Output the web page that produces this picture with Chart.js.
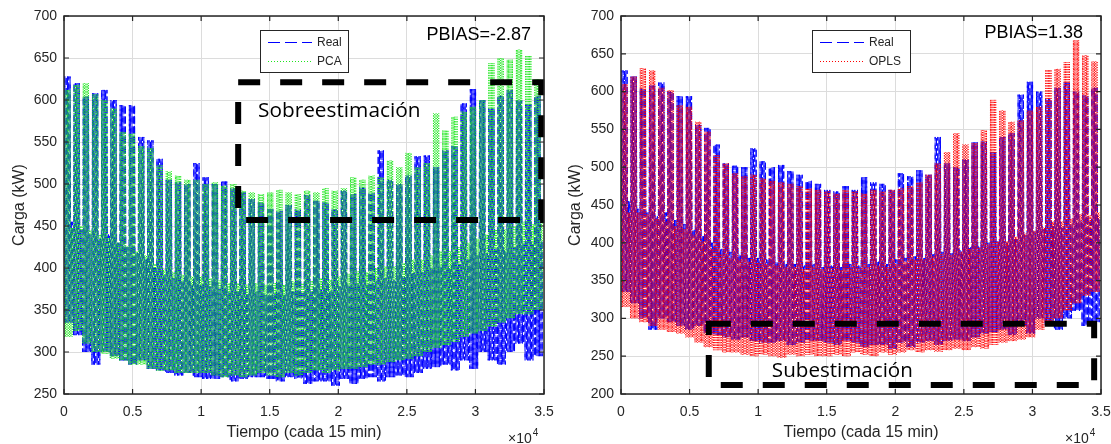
<!DOCTYPE html>
<html>
<head>
<meta charset="utf-8">
<script src="https://cdn.jsdelivr.net/npm/chart.js@4.4.0/dist/chart.umd.min.js"></script>
<style>
  body { margin: 0; background: #fff; width: 1111px; height: 444px; overflow: hidden; position: relative; }
  .panel { position: absolute; top: 0; height: 444px; }
</style>
</head>
<body>
<div class="panel" style="left:0;width:555px"><canvas id="pcaChart" width="555" height="444"></canvas></div>
<div class="panel" style="left:555px;width:556px"><canvas id="oplsChart" width="556" height="444"></canvas></div>
<script>
// weekly readings (52 weeks, 96 samples of 15 min per day)
const realPeak = [628, 620, 604, 608, 612, 600, 594, 594, 556, 552, 530, 505, 502, 500, 525, 508, 500, 503, 495, 490, 482, 478, 470, 468, 475, 470,
                  487, 480, 478, 470, 492, 488, 496, 490, 540, 505, 500, 510, 533, 534, 520, 540, 545, 596, 613, 600, 590, 605, 612, 600, 595, 605];
const realLow = [335, 320, 300, 285, 300, 295, 290, 285, 290, 280, 278, 275, 272, 275, 270, 268, 268, 270, 265, 268, 270, 270, 268, 265, 270, 268,
                 262, 265, 265, 260, 268, 262, 268, 270, 265, 270, 272, 270, 275, 280, 282, 285, 278, 290, 280, 300, 290, 285, 300, 310, 290, 295];
const realWeekend = [455, 445, 440, 435, 440, 430, 425, 418, 410, 400, 392, 388, 385, 380, 380, 378, 375, 372, 372, 370, 372, 368, 370, 368, 372, 370,
                     372, 375, 372, 378, 380, 382, 380, 385, 388, 386, 390, 394, 395, 400, 402, 400, 405, 410, 415, 418, 422, 420, 425, 430, 428, 432];

const pcaPeak = [612, 618, 620, 607, 600, 590, 562, 560, 545, 543, 522, 515, 510, 505, 505, 500, 502, 498, 500, 492, 490, 488, 490, 493, 490, 488,
                 492, 490, 495, 492, 495, 508, 505, 510, 508, 528, 520, 537, 520, 525, 584, 564, 580, 586, 592, 600, 644, 650, 648, 660, 653, 625];
const pcaLow = [318, 325, 310, 300, 298, 292, 290, 285, 285, 280, 278, 278, 275, 275, 275, 275, 272, 270, 272, 270, 272, 275, 272, 270, 275, 272,
                275, 278, 275, 278, 280, 280, 282, 285, 285, 288, 290, 292, 295, 300, 305, 308, 312, 318, 322, 325, 330, 335, 340, 345, 345, 350];
const pcaWeekend = [448, 450, 445, 440, 436, 430, 426, 420, 415, 405, 398, 395, 392, 390, 390, 388, 385, 382, 382, 380, 382, 380, 382, 380, 384, 382,
                    385, 388, 386, 390, 393, 396, 395, 400, 402, 402, 406, 410, 410, 415, 420, 420, 425, 430, 435, 440, 446, 446, 450, 455, 452, 456];

const oplsPeak = [610, 620, 631, 628, 605, 602, 582, 580, 560, 547, 516, 505, 492, 488, 490, 485, 482, 480, 478, 475, 472, 470, 468, 465, 470, 468,
                  465, 470, 468, 470, 472, 475, 480, 490, 505, 520, 545, 530, 532, 549, 589, 575, 560, 562, 575, 580, 629, 630, 639, 668, 648, 640];
const oplsLow = [315, 300, 295, 290, 285, 282, 280, 275, 268, 262, 258, 255, 255, 252, 250, 252, 250, 248, 252, 250, 252, 250, 250, 252, 250, 255,
                 252, 250, 255, 252, 255, 258, 255, 258, 256, 258, 260, 258, 262, 260, 265, 268, 270, 272, 275, 285, 295, 300, 310, 320, 330, 335];
const oplsWeekend = [440, 440, 438, 432, 428, 422, 418, 410, 402, 392, 385, 380, 378, 375, 374, 372, 370, 368, 368, 365, 368, 365, 366, 364, 368, 366,
                     368, 370, 368, 372, 375, 378, 378, 382, 385, 384, 388, 392, 394, 398, 402, 402, 408, 412, 416, 420, 428, 428, 432, 438, 436, 440];

const xTicks = [0, 5000, 10000, 15000, 20000, 25000, 30000, 35000];

// one night low and one afternoon high per day, weekdays reach the weekly peak
function buildSeries(peak, low, weekend) {
  const pts = [];
  for (let w = 0; w < peak.length; w++) {
    for (let d = 0; d < 7; d++) {
      const day = w * 7 + d;
      pts.push({ x: day * 96 + 20, y: low[w] });
      pts.push({ x: day * 96 + 60, y: d < 5 ? peak[w] : weekend[w] });
    }
  }
  return pts;
}

const INK = '#262626';
Chart.defaults.font.family = '"Liberation Sans", Arial, sans-serif';
Chart.defaults.color = INK;

function fitText(ctx, text, family, target) {
  ctx.font = '20px ' + family;
  const size = 20 * target / ctx.measureText(text).width;
  ctx.font = size.toFixed(1) + 'px ' + family;
}

const matlabFrame = {
  id: 'matlabFrame',
  afterDatasetsDraw(chart, args, o) {
    const { ctx, chartArea: a, scales: { x, y } } = chart;
    ctx.save();

    // dashed annotation box
    ctx.strokeStyle = '#000';
    ctx.lineWidth = 6;
    ctx.setLineDash([22, 20]);
    const bx1 = x.getPixelForValue(o.box[0]), bx2 = x.getPixelForValue(o.box[1]);
    const by1 = y.getPixelForValue(o.box[2]), by2 = y.getPixelForValue(o.box[3]);
    ctx.strokeRect(bx1, by1, bx2 - bx1, by2 - by1);
    ctx.setLineDash([]);

    ctx.fillStyle = '#000';
    ctx.textBaseline = 'alphabetic';
    ctx.textAlign = 'left';
    fitText(ctx, o.note, '"Open Sans", sans-serif', o.noteWidth);
    ctx.fillText(o.note, x.getPixelForValue(o.noteAt[0]), y.getPixelForValue(o.noteAt[1]));

    // PBIAS
    ctx.font = '18px "Liberation Sans", Arial, sans-serif';
    ctx.textAlign = 'right';
    ctx.fillText(o.pbias, a.right - o.pbiasRight, a.top + o.pbiasBase);

    // legend
    const lx = a.left + o.legendX, ly = a.top + 14, lw = o.legendW, lh = 42;
    ctx.fillStyle = '#fff';
    ctx.fillRect(lx, ly, lw, lh);
    ctx.strokeStyle = INK;
    ctx.lineWidth = 1;
    ctx.strokeRect(lx + 0.5, ly + 0.5, lw, lh);
    ctx.font = '12px "Liberation Sans", Arial, sans-serif';
    ctx.textAlign = 'left';
    ctx.textBaseline = 'middle';
    chart.data.datasets.forEach((ds, i) => {
      const row = ly + 12 + i * 19;
      ctx.strokeStyle = ds.borderColor;
      ctx.lineWidth = 1;
      ctx.setLineDash(i === 0 ? [12, 5] : [1, 2]);
      ctx.beginPath();
      ctx.moveTo(lx + 8, row + 0.5);
      ctx.lineTo(lx + 52, row + 0.5);
      ctx.stroke();
      ctx.setLineDash([]);
      ctx.fillStyle = INK;
      ctx.fillText(ds.label, lx + 57, row + 1);
    });

    // axes box and inward ticks
    ctx.strokeStyle = INK;
    ctx.lineWidth = 1.5;
    ctx.strokeRect(a.left, a.top, a.width, a.height);
    ctx.lineWidth = 1.2;
    ctx.beginPath();
    x.ticks.forEach(t => {
      const px = x.getPixelForValue(t.value);
      ctx.moveTo(px, a.bottom); ctx.lineTo(px, a.bottom - 5);
      ctx.moveTo(px, a.top); ctx.lineTo(px, a.top + 5);
    });
    y.ticks.forEach(t => {
      const py = y.getPixelForValue(t.value);
      ctx.moveTo(a.left, py); ctx.lineTo(a.left + 5, py);
      ctx.moveTo(a.right, py); ctx.lineTo(a.right - 5, py);
    });
    ctx.stroke();

    // x10^4 exponent
    ctx.fillStyle = INK;
    ctx.textBaseline = 'alphabetic';
    ctx.font = '14px "Liberation Sans", Arial, sans-serif';
    const ex = a.right - 36;
    ctx.fillText('\u00d710', ex, 443);
    ctx.font = '10px "Liberation Sans", Arial, sans-serif';
    ctx.fillText('4', ex + ctx.measureText('\u00d710').width * 1.4 + 1, 436);
    ctx.restore();
  }
};

function makeChart(id, model, modelData, color, yMin, frame) {
  const real = buildSeries(realPeak, realLow, realWeekend);
  return new Chart(document.getElementById(id), {
    type: 'line',
    data: {
      datasets: [
        { label: 'Real', data: real, borderColor: '#0000ff', borderWidth: 1, borderDash: [7, 3], order: 2 },
        { label: model, data: modelData, borderColor: color, borderWidth: 1, borderDash: [1, 1.5], order: 1 }
      ]
    },
    options: {
      responsive: false,
      animation: false,
      parsing: false,
      normalized: true,
      elements: { point: { radius: 0 }, line: { tension: 0 } },
      layout: { padding: { top: 16, right: frame.padRight, left: 0, bottom: 0 } },
      plugins: { legend: { display: false }, tooltip: { enabled: false }, matlabFrame: frame },
      scales: {
        x: {
          type: 'linear', min: 0, max: 35000,
          afterBuildTicks(s) { s.ticks = xTicks.map(v => ({ value: v })); },
          afterFit(s) { s.height = 50; s.paddingLeft = 0; s.paddingRight = 0; },
          grid: { color: '#dcdcdc', drawTicks: false },
          border: { display: false },
          ticks: { padding: 10, maxRotation: 0, font: { size: 14 }, callback: v => String(v / 10000) },
          title: { display: true, text: 'Tiempo (cada 15 min)', font: { size: 16 }, padding: { top: 0, bottom: 2 } }
        },
        y: {
          min: yMin, max: 700,
          afterFit(s) { s.width = frame.axisW; s.paddingTop = 0; s.paddingBottom = 0; },
          grid: { color: '#dcdcdc', drawTicks: false },
          border: { display: false },
          ticks: { stepSize: 50, padding: 7, font: { size: 14 } },
          title: { display: true, text: 'Carga (kW)', font: { size: 16 }, padding: { top: frame.titlePad, bottom: 0 } }
        }
      }
    },
    plugins: [matlabFrame]
  });
}

makeChart('pcaChart', 'PCA', buildSeries(pcaPeak, pcaLow, pcaWeekend), '#1ee61e', 250, {
  padRight: 11, axisW: 64, titlePad: 10,
  box: [12700, 34800, 621, 457], note: 'Sobreestimación', noteAt: [14150, 580], noteWidth: 162,
  pbias: 'PBIAS=-2.87', pbiasRight: 13, pbiasBase: 24,
  legendX: 196, legendW: 88
});

makeChart('oplsChart', 'OPLS', buildSeries(oplsPeak, oplsLow, oplsWeekend), '#ff0000', 200, {
  padRight: 10, axisW: 66, titlePad: 11,
  box: [6400, 34500, 293, 212], note: 'Subestimación', noteAt: [11000, 222.5], noteWidth: 141,
  pbias: 'PBIAS=1.38', pbiasRight: 18, pbiasBase: 22,
  legendX: 191, legendW: 98
});
</script>
</body>
</html>
